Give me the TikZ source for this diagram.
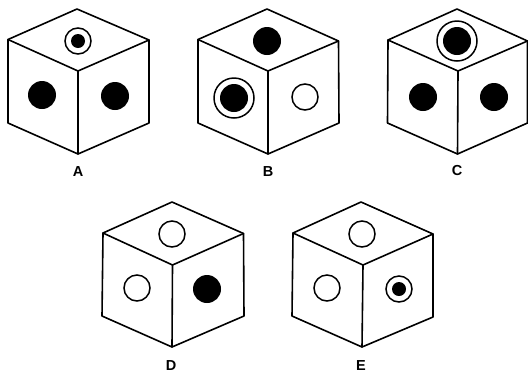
\documentclass[tikz,border=0pt]{standalone}
\usepackage{fontspec}
\setmainfont{Liberation Sans}
\tikzset{
  edge/.style={draw=black,line width=1.6bp,line join=round,line cap=round},
  ring/.style={draw=black,line width=1.5bp,fill=white},
  dot/.style={fill=black},
  lab/.style={font=\fontsize{14.5bp}{15bp}\selectfont\bfseries,text=black,inner sep=0pt,anchor=center}
}
\newcommand{\hollow}[3]{\draw[ring] (#1,#2) circle (#3);}
\newcommand{\solid}[3]{\fill[dot] (#1,#2) circle (#3);}
\newcommand{\bullring}[4]{\draw[ring] (#1,#2) circle (#3);\fill[dot] (#1,#2) circle (#4);}
\begin{document}
\begin{tikzpicture}[x=1bp,y=-1bp]
\useasboundingbox[fill=white] (0,0) rectangle (528,373);
% A
\draw[edge] (77,9) -- (149,40) -- (149,123) -- (78,154) -- (8,123) -- (8,39.5) -- cycle;
\draw[edge] (8,39.5) -- (78,71) -- (149,40) (78,71) -- (78,154);
\bullring{78}{41}{13}{7}\solid{42}{95}{14}\solid{115}{96}{14}
\node[lab] (la) at (78,172) {A};
% B
\draw[edge] (267,9) -- (338.5,41) -- (339,123) -- (268,154) -- (198,123) -- (198,39.5) -- cycle;
\draw[edge] (198,39.5) -- (268,71) -- (338.5,41) (268,71) -- (268,154);
\solid{267}{41}{14}\bullring{234}{98}{20}{14}\hollow{305}{97}{13}
\node[lab] (lb) at (268,172) {B};
% C
\draw[edge] (457,9) -- (527.5,41) -- (527.5,123) -- (457.5,154) -- (387.5,123) -- (388,40) -- cycle;
\draw[edge] (388,40) -- (458,71) -- (527.5,41) (458,71) -- (457.5,154);
\bullring{457}{41}{20}{14}\solid{423}{97}{14}\solid{494}{97}{14}
\node[lab] (lc) at (457,171) {C};
% D
\draw[edge] (172,202) -- (243.5,233.5) -- (244,316) -- (172,347) -- (102,316) -- (103,233) -- cycle;
\draw[edge] (103,233) -- (172.5,265) -- (243.5,233.5) (172.5,265) -- (172,347);
\hollow{172}{234}{13}\hollow{137}{288}{13}\solid{207}{289}{14}
\node[lab] (ld) at (171,366) {D};
% E
\draw[edge] (361,202) -- (433,234) -- (433,317) -- (362,347) -- (292,316) -- (293,233) -- cycle;
\draw[edge] (293,233) -- (363,265) -- (433,234) (363,265) -- (362,347);
\hollow{362}{234}{13}\hollow{327}{288}{13}\bullring{399}{289}{13}{7}
\node[lab] (le) at (361,366) {E};
\end{tikzpicture}
\end{document}
